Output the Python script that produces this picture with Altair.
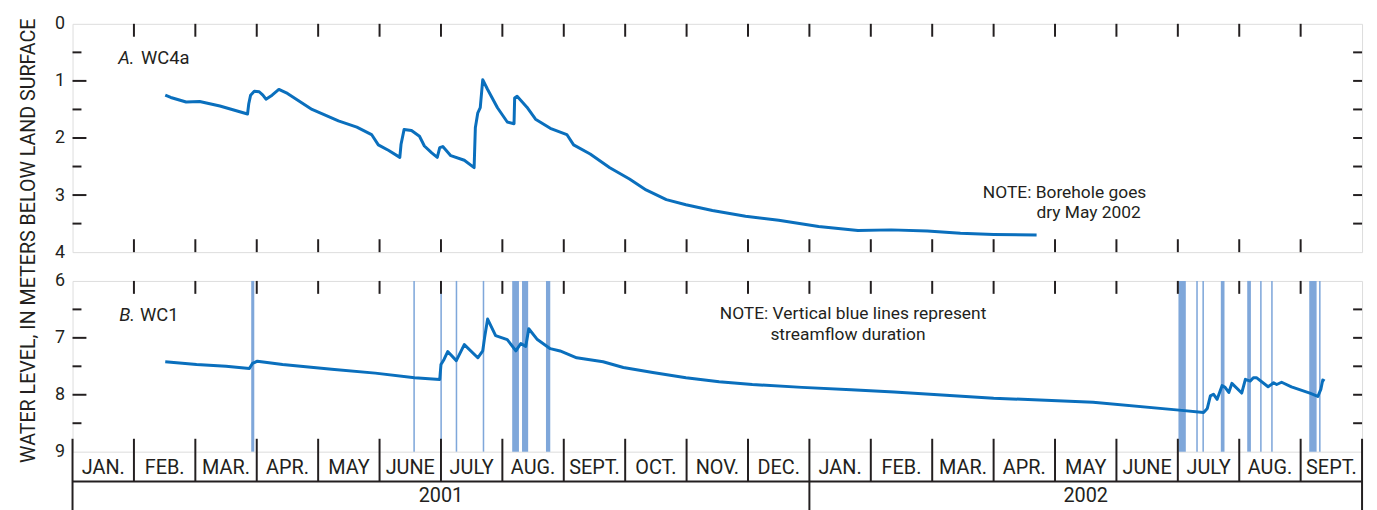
import altair as alt
import pandas as pd

FONT = "Roboto, Liberation Sans, Arial, sans-serif"
INK = "#231f20"
LINE = "#0a6fbd"
BAND = "#7fa7da"

W = 1299
HA = 230
HB = 172

# x values are months counted from 1 January 2001 (0 = Jan 1 2001, 21 = Oct 1 2002)
a_month = [1.51, 1.60, 1.85, 2.07, 2.40, 2.85, 2.87, 2.90, 2.96, 3.04, 3.10, 3.15, 3.25, 3.36, 3.50,
           3.90, 4.33, 4.63, 4.87, 4.98, 5.15, 5.33, 5.35, 5.40, 5.52, 5.65, 5.73, 5.85, 5.94, 5.98,
           6.03, 6.16, 6.38, 6.54, 6.56, 6.60, 6.64, 6.68, 6.76, 6.92, 7.08, 7.19, 7.20, 7.24, 7.40,
           7.54, 7.78, 8.05, 8.16, 8.43, 8.75, 9.07, 9.34, 9.67, 9.99, 10.42, 10.96, 11.50, 12.15,
           12.79, 13.33, 13.92, 14.46, 15.00, 15.70]
a_depth = [1.25, 1.29, 1.37, 1.36, 1.44, 1.58, 1.40, 1.25, 1.18, 1.19, 1.25, 1.32, 1.25, 1.15, 1.22,
           1.50, 1.70, 1.81, 1.94, 2.12, 2.22, 2.34, 2.11, 1.85, 1.87, 1.97, 2.14, 2.26, 2.34, 2.17,
           2.15, 2.31, 2.39, 2.52, 1.82, 1.56, 1.47, 0.98, 1.15, 1.47, 1.72, 1.75, 1.30, 1.27, 1.46,
           1.67, 1.83, 1.94, 2.12, 2.28, 2.52, 2.72, 2.91, 3.08, 3.17, 3.27, 3.37, 3.44, 3.55,
           3.62, 3.61, 3.63, 3.67, 3.69, 3.70]

b_month = [1.51, 2.02, 2.50, 2.88, 2.93, 3.01, 3.42, 4.22, 4.93, 5.57, 5.98, 6.00, 6.05, 6.11, 6.25,
           6.38, 6.60, 6.68, 6.71, 6.76, 6.89, 7.08, 7.22, 7.30, 7.38, 7.43, 7.57, 7.78, 7.94, 8.21,
           8.64, 8.97, 9.45, 9.99, 10.53, 11.07, 11.88, 12.68, 13.38, 15.00, 16.62, 18.02, 18.42,
           18.48, 18.53, 18.58, 18.64, 18.72, 18.77, 18.83, 18.88, 19.04, 19.10, 19.18, 19.23, 19.28,
           19.47, 19.56, 19.61, 19.69, 19.85, 20.15, 20.28, 20.33, 20.36, 20.39]
b_depth = [7.42, 7.47, 7.50, 7.54, 7.45, 7.41, 7.47, 7.55, 7.62, 7.70, 7.73, 7.47, 7.38, 7.24, 7.40,
           7.12, 7.35, 7.23, 7.00, 6.67, 6.96, 7.03, 7.23, 7.10, 7.15, 6.84, 7.03, 7.19, 7.23, 7.35,
           7.42, 7.52, 7.61, 7.70, 7.77, 7.82, 7.87, 7.91, 7.95, 8.06, 8.13, 8.27, 8.31,
           8.24, 8.02, 7.99, 8.08, 7.84, 7.87, 7.96, 7.80, 7.97, 7.73, 7.76, 7.70, 7.70,
           7.86, 7.79, 7.82, 7.78, 7.86, 7.97, 8.03, 7.90, 7.74, 7.76]

flow_start = [2.91, 5.55, 5.99, 6.24, 6.68, 7.16, 7.32, 7.71, 18.01, 18.30, 18.40, 18.70, 19.13,
              19.34, 19.52, 20.14, 20.30]
flow_end = [2.96, 5.575, 6.015, 6.265, 6.705, 7.27, 7.42, 7.78, 18.13, 18.325, 18.425, 18.76, 19.19,
            19.365, 19.545, 20.26, 20.325]

month_labels = ["JAN.", "FEB.", "MAR.", "APR.", "MAY", "JUNE", "JULY", "AUG.", "SEPT.", "OCT.",
                "NOV.", "DEC.", "JAN.", "FEB.", "MAR.", "APR.", "MAY", "JUNE", "JULY", "AUG.", "SEPT."]
year_labels = ["2001", "2002"]
year_first_month = [0, 12]
year_last_month = [12, 21]

a_ticks_major = [1, 2, 3]
a_ticks_minor = [0.5, 1.5, 2.5, 3.5]
b_ticks_major = [7, 8]
b_ticks_minor = [6.5, 7.5, 8.5]

xs = alt.Scale(domain=[0, 21], nice=False, zero=False)
ys_a = alt.Scale(domain=[0, 4], reverse=True, nice=False, zero=False)
ys_b = alt.Scale(domain=[6, 9], reverse=True, nice=False, zero=False)

axis_a = alt.Axis(
    values=[0, 1, 2, 3, 4], ticks=False, tickSize=0, domain=False, grid=False,
    labelFont=FONT, labelFontSize=18, labelColor=INK, labelPadding=8,
    title="WATER LEVEL, IN METERS BELOW LAND SURFACE",
    titleFont=FONT, titleFontSize=19.8, titleFontWeight="normal", titleColor=INK,
    titleAngle=270, titleAlign="center", titleBaseline="middle",
    titleX=-44, titleY=218)
axis_b = alt.Axis(
    values=[6, 7, 8, 9], ticks=False, tickSize=0, domain=False, grid=False,
    labelFont=FONT, labelFontSize=18, labelColor=INK, labelPadding=8, title=None)

inner_bounds = list(range(1, 21))
bounds_df = pd.DataFrame({"m": inner_bounds})
short_bounds_df = pd.DataFrame({"m": [m for m in inner_bounds if m != 12]})
long_bounds_df = pd.DataFrame({"m": [0, 12, 21]})
months_df = pd.DataFrame({"m": [i + 0.5 for i in range(len(month_labels))], "label": month_labels})
years_df = pd.DataFrame({"m": [(a + b) / 2 for a, b in zip(year_first_month, year_last_month)],
                         "label": year_labels})

RULE = dict(color=INK, strokeWidth=2)


def tick_layers(h, ys, yaxis, major, minor, bottom=True):
    layers = []
    layers.append(alt.Chart(bounds_df).mark_rule(**RULE).encode(
        x=alt.X("m:Q", scale=xs, axis=None), y=alt.value(0), y2=alt.value(13)))
    if bottom:
        layers.append(alt.Chart(bounds_df).mark_rule(**RULE).encode(
            x=alt.X("m:Q", scale=xs, axis=None), y=alt.value(h - 13), y2=alt.value(h)))
    layers.append(alt.Chart(pd.DataFrame({"d": major})).mark_rule(**RULE).encode(
        y=alt.Y("d:Q", scale=ys, axis=yaxis), x=alt.value(0), x2=alt.value(14)))
    layers.append(alt.Chart(pd.DataFrame({"d": minor})).mark_rule(**RULE).encode(
        y=alt.Y("d:Q", scale=ys, axis=yaxis), x=alt.value(0), x2=alt.value(9)))
    layers.append(alt.Chart(pd.DataFrame({"d": sorted(major + minor)})).mark_rule(**RULE).encode(
        y=alt.Y("d:Q", scale=ys, axis=yaxis), x=alt.value(W - 9), x2=alt.value(W)))
    return layers


def text_at(label, x, y, size=17, style="normal"):
    return alt.Chart(pd.DataFrame({"t": [label]})).mark_text(
        align="left", baseline="middle", font=FONT, fontSize=size, color=INK, fontStyle=style
    ).encode(x=alt.value(x), y=alt.value(y), text="t:N")


# ---------- Panel A ----------
line_a = alt.Chart(pd.DataFrame({"m": a_month, "d": a_depth})).mark_line(
    color=LINE, strokeWidth=3, strokeJoin="round").encode(
    x=alt.X("m:Q", scale=xs, axis=None),
    y=alt.Y("d:Q", scale=ys_a, axis=axis_a),
    order="m:Q")

panel_a = alt.layer(
    line_a,
    *tick_layers(HA, ys_a, axis_a, a_ticks_major, a_ticks_minor),
    text_at("A.", 46, 34, 18.5, "italic"),
    text_at("WC4a", 69, 34, 18.5),
    text_at("NOTE: Borehole goes", 917, 170, 17.5),
    text_at("dry May 2002", 971, 191, 17.5),
).properties(width=W, height=HA)

# ---------- Panel B ----------
bands = alt.Chart(pd.DataFrame({"s": flow_start, "e": flow_end})).mark_rect(
    color=BAND, opacity=1).encode(
    x=alt.X("s:Q", scale=xs, axis=None), x2="e:Q")

line_b = alt.Chart(pd.DataFrame({"m": b_month, "d": b_depth})).mark_line(
    color=LINE, strokeWidth=3, strokeJoin="round").encode(
    x=alt.X("m:Q", scale=xs, axis=None),
    y=alt.Y("d:Q", scale=ys_b, axis=axis_b),
    order="m:Q")

month_rules = alt.Chart(short_bounds_df).mark_rule(**RULE).encode(
    x=alt.X("m:Q", scale=xs, axis=None), y=alt.value(HB - 13), y2=alt.value(HB + 30))
long_rules = alt.Chart(long_bounds_df).mark_rule(**RULE).encode(
    x=alt.X("m:Q", scale=xs, axis=None), y=alt.value(HB - 13), y2=alt.value(HB + 80))
row_line = alt.Chart(pd.DataFrame({"a": [0], "b": [21]})).mark_rule(**RULE).encode(
    x=alt.X("a:Q", scale=xs, axis=None), x2="b:Q", y=alt.value(HB + 30))
month_text = alt.Chart(months_df).mark_text(
    font=FONT, fontSize=20, color=INK, baseline="middle", align="center").encode(
    x=alt.X("m:Q", scale=xs, axis=None), y=alt.value(HB + 16), text="label:N")
year_text = alt.Chart(years_df).mark_text(
    font=FONT, fontSize=20, color=INK, baseline="middle", align="center").encode(
    x=alt.X("m:Q", scale=xs, axis=None), y=alt.value(HB + 45), text="label:N")

panel_b = alt.layer(
    bands,
    line_b,
    *tick_layers(HB, ys_b, axis_b, b_ticks_major, b_ticks_minor, bottom=False),
    month_rules, long_rules, row_line, month_text, year_text,
    text_at("B.", 47, 34, 18.5, "italic"),
    text_at("WC1", 68, 34, 18.5),
    text_at("NOTE: Vertical blue lines represent", 652, 33, 17.5),
    text_at("streamflow duration", 703, 54, 17.5),
).properties(width=W, height=HB)

chart = alt.vconcat(panel_a, panel_b, spacing=29, bounds="flush").properties(
    padding={"left": 10, "top": 4, "right": 5, "bottom": 0}
).configure_view(stroke=INK, strokeWidth=2).configure(background="white")

chart.save("out.html", embed_options={"renderer": "svg", "actions": False})
